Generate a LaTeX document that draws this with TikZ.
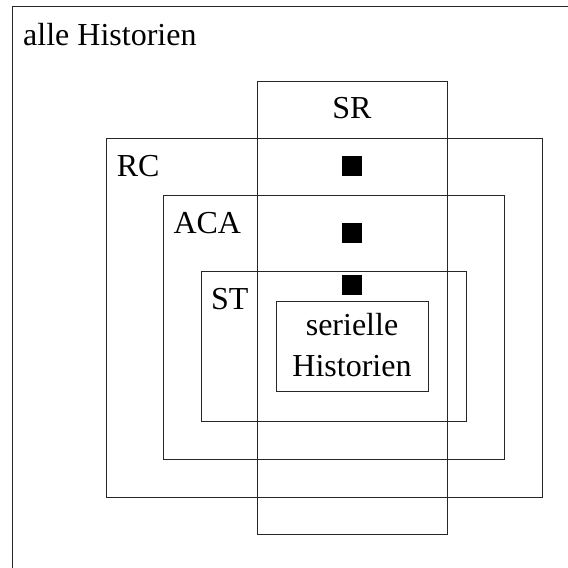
\documentclass[tikz,border=0pt]{standalone}
\usepackage{fontspec}
\setmainfont{Liberation Serif}
\begin{document}
\begin{tikzpicture}[x=1pt,y=-1pt,
  setbox/.style={draw=black!85,line width=0.9pt,inner sep=0pt,anchor=north west},
  lbl/.style={inner sep=0pt,anchor=base west,font=\fontsize{32}{38}\selectfont},
  dot/.style={fill=black,inner sep=0pt,minimum size=20pt}]
\clip (0,0) rectangle (568,568);
\useasboundingbox (0,0) rectangle (568,568);
\node[setbox,minimum width=600pt,minimum height=600pt] (all) at (12,6) {};
\node[setbox,minimum width=435.5pt,minimum height=358.7pt] (rc) at (106.2,138.3) {};
\node[setbox,minimum width=340.7pt,minimum height=264pt] (aca) at (163,195) {};
\node[setbox,minimum width=265pt,minimum height=150.7pt] (st) at (200.7,270.7) {};
\node[setbox,minimum width=189.4pt,minimum height=453pt] (sr) at (257.3,81.3) {};
\node[setbox,minimum width=151.7pt,minimum height=90.6pt] (ser) at (276.3,300.7) {};
\node[dot] (d1) at (352.2,166.3) {};
\node[dot] (d2) at (352.2,232.7) {};
\node[dot] (d3) at (352.2,285.2) {};
\node[lbl] (tall) at (23,45) {alle Historien};
\node[lbl,anchor=base] (tsr) at (352,118.3) {SR};
\node[lbl] (trc) at (116.7,176.7) {RC};
\node[lbl] (taca) at (173.3,233.3) {ACA};
\node[lbl] (tst) at (211,309.3) {ST};
\node[lbl,anchor=base] (tser1) at (352,335) {serielle};
\node[lbl,anchor=base] (tser2) at (352,376) {Historien};
\end{tikzpicture}
\end{document}
